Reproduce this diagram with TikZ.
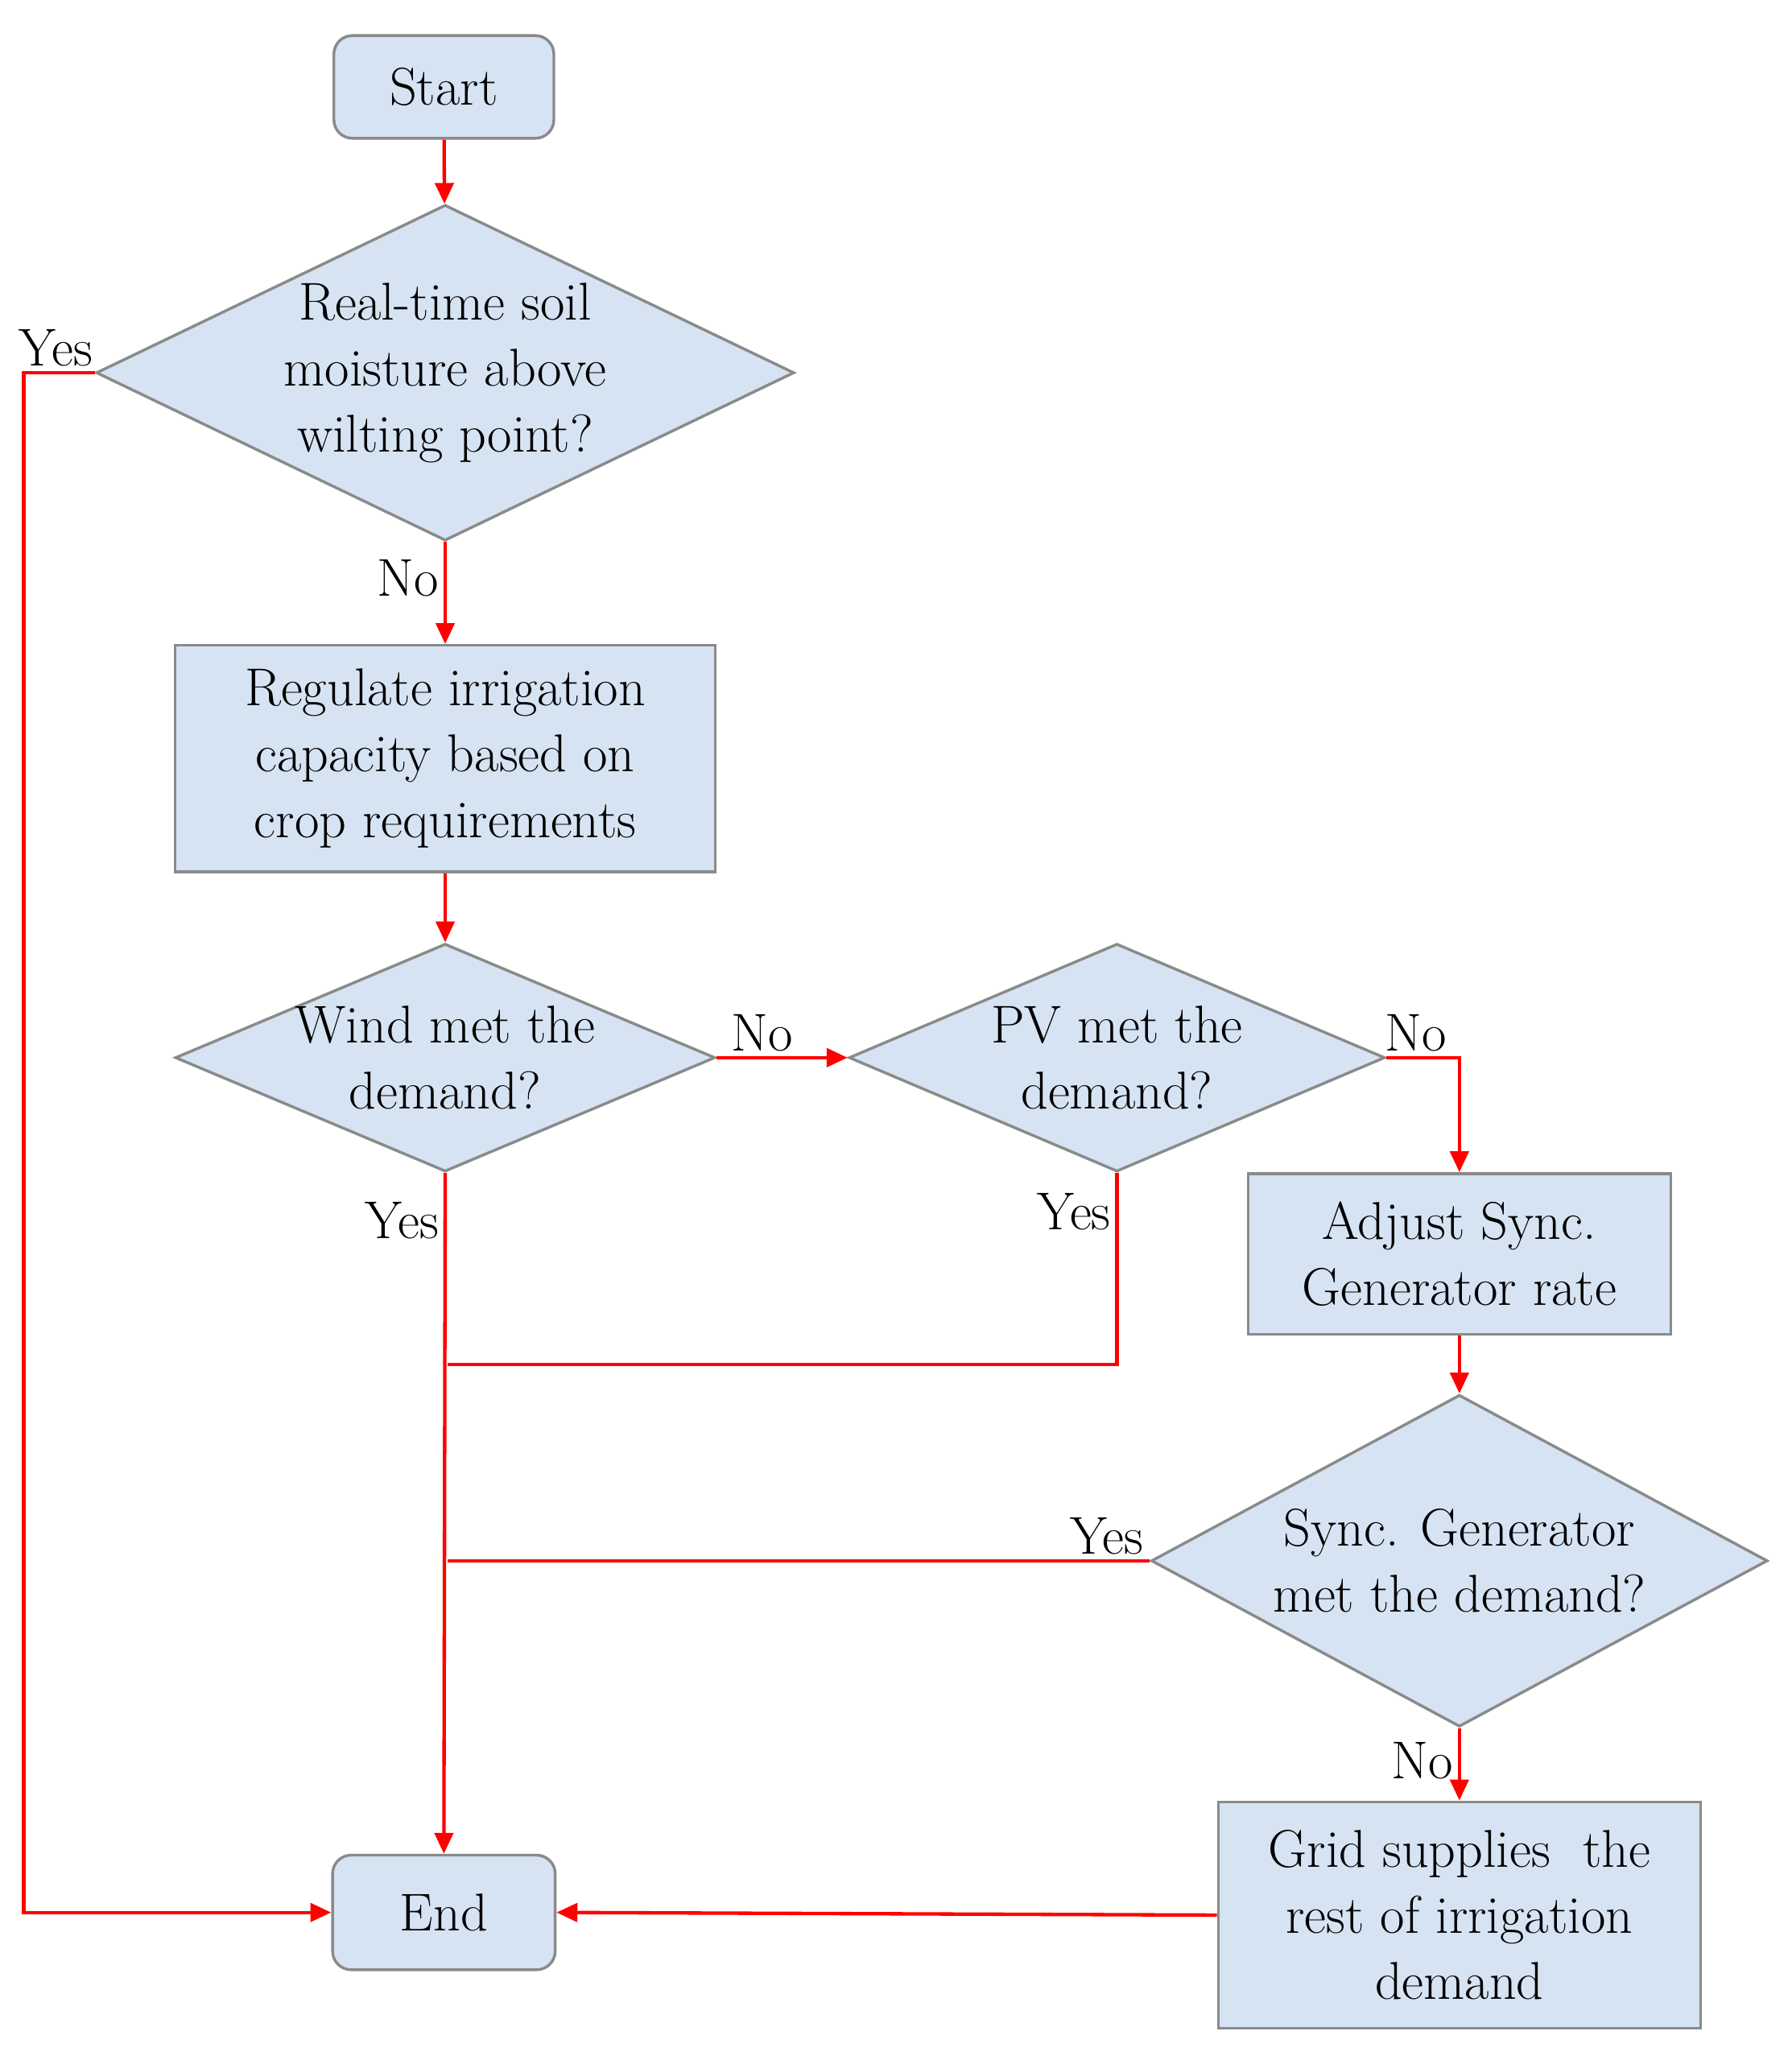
\documentclass[tikz,border=0pt]{standalone}
\usetikzlibrary{shapes.geometric, arrows.meta}
\definecolor{boxfill}{HTML}{D6E3F2}
\definecolor{boxline}{HTML}{8A8A8A}
\tikzset{
  base/.style={draw=boxline, line width=1.2pt, fill=boxfill, inner sep=0pt, align=center},
  term/.style={base, rectangle, rounded corners=8pt},
  proc/.style={base, rectangle},
  dia/.style={base, diamond},
  txt/.style={align=center, inner sep=0pt},
  lbl/.style={inner sep=2pt},
  arrow/.style={draw=red, line width=1.5pt, -{Triangle[length=9pt, width=8pt]}},
  line/.style={draw=red, line width=1.5pt}
}
\begin{document}
\begin{tikzpicture}[font=\fontsize{23}{28.5}\selectfont]
\useasboundingbox (0,0) rectangle (27.2,-31.22);

% Terminals and process boxes
\node (start) [term, minimum width=3.34cm, minimum height=1.56cm] at (6.74,-1.32) {Start};
\node (regulate) [proc, minimum width=8.2cm, minimum height=3.44cm] at (6.76,-11.52) {Regulate irrigation\\capacity based on\\crop requirements};
\node (adjust) [proc, minimum width=6.42cm, minimum height=2.44cm] at (22.16,-19.04) {Adjust Sync.\\Generator rate};
\node (grid) [proc, minimum width=7.32cm, minimum height=3.44cm] at (22.16,-29.08) {Grid supplies\ \ the\\rest of irrigation\\demand};
\node (end) [term, minimum width=3.38cm, minimum height=1.74cm] at (6.74,-29.04) {End};

% Decisions
\node (soil) [dia, minimum width=10.6cm, minimum height=5.1cm] at (6.76,-5.66) {};
\node (soiltxt) [txt] at (soil) {Real-time soil\\moisture above\\wilting point?};
\node (wind) [dia, minimum width=8.2cm, minimum height=3.46cm] at (6.76,-16.06) {};
\node (windtxt) [txt] at (wind) {Wind met the\\demand?};
\node (pv) [dia, minimum width=8.14cm, minimum height=3.46cm] at (16.96,-16.06) {};
\node (pvtxt) [txt] at (pv) {PV met the\\demand?};
\node (sync) [dia, minimum width=9.36cm, minimum height=5.04cm] at (22.16,-23.7) {};
\node (synctxt) [txt] at (sync) {Sync. Generator\\met the demand?};

% Junctions
\coordinate (j1) at (6.8,-20.72);
\coordinate (j2) at (6.8,-23.7);
\coordinate (lft) at (0.36,-5.66);

% Arrows
\draw [arrow] (start) -- (soil);
\draw [arrow] (soil.south) -- node[lbl, left, pos=0.35] {No} (regulate.north);
\draw [arrow] (regulate) -- (wind);
\draw [arrow] (wind.east) -- node[lbl, above, pos=0.35] {No} (pv.west);
\draw [arrow] (pv.east) -| node[lbl, above, pos=0.2] {No} (adjust.north);
\draw [arrow] (adjust) -- (sync);
\draw [arrow] (sync.south) -- node[lbl, left, pos=0.45] {No} (grid.north);
\draw [arrow] (grid.west) -- (end.east);
\draw [arrow] (soil.west) -- node[lbl, above, pos=0.55] {Yes} (lft) |- (end.west);
\draw [arrow] (wind.south) -- node[lbl, left, pos=0.07] {Yes} (end.north);
\draw [line] (pv.south) -- node[lbl, left, pos=0.2] {Yes} (pv.south |- j1) -- (j1);
\draw [line] (sync.west) -- node[lbl, above left, pos=0.0] {Yes} (j2);

\end{tikzpicture}
\end{document}
